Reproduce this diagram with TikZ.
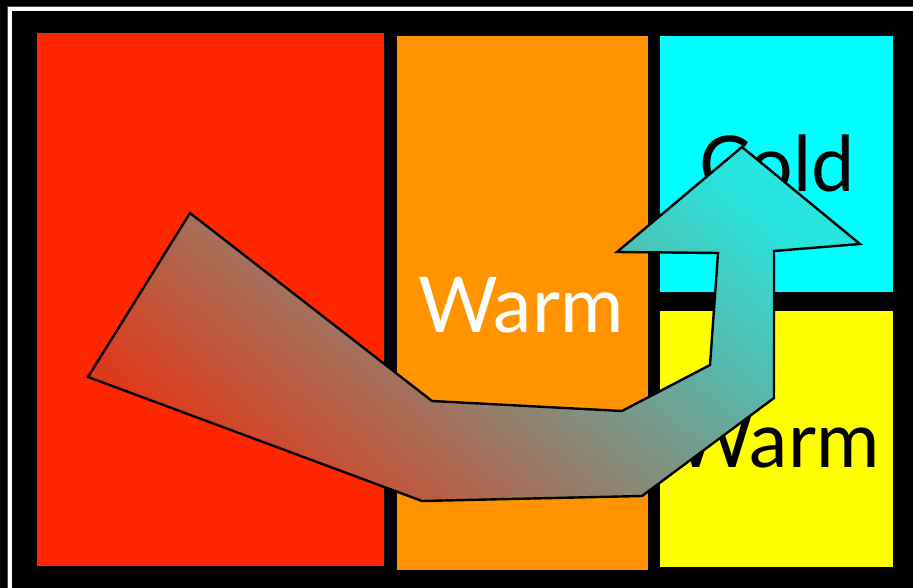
\documentclass[tikz,border=0pt]{standalone}
\usepackage{fontspec}
\setmainfont{Lato}
\definecolor{pred}{RGB}{255,38,0}
\definecolor{porange}{RGB}{255,147,0}
\definecolor{pcyan}{RGB}{0,255,255}
\definecolor{pyellow}{RGB}{255,255,0}
\definecolor{arrowred}{RGB}{222,58,28}
\definecolor{arrowcyan}{RGB}{40,228,222}

\begin{document}
\begin{tikzpicture}[x=1pt,y=-1pt,
  zone/.style={fill=#1,draw=none},
  label/.style={anchor=base,font=\fontsize{77}{77}\selectfont},
  flow/.style={draw=black,line width=2.4pt,line join=miter,
    bottom color=arrowred,top color=arrowcyan,shading angle=-40}]
\useasboundingbox (0,0) rectangle (913,588);
\clip (0,0) rectangle (913,588);
\fill[black] (0,0) rectangle (913,588);
%frame
\draw[gray!60!black,line width=1pt] (7.3,6.3) rectangle (1000,700);
\draw[white,line width=4pt] (10,9) rectangle (1000,700);
%zones
\fill[zone=pred] (37,33) rectangle (384,566);
\fill[zone=porange] (397,36) rectangle (648,570);
\fill[zone=pcyan] (660,36) rectangle (893,292);
\fill[zone=pyellow] (660,311) rectangle (893,567);
\node[label,text=white] (warmmid) at (521,332) {Warm};
\node[label,text=black] (cold) at (777,192) {Cold};
\node[label,text=black] (warmlow) at (777,467) {Warm};
%arrow
\shadedraw[flow]
(190,213)--(432,401)--(622,411)--(710,365)--(718,253)
--(617,252)--(742,147)--(860,244)--(774,251)--(774,398)
--(642,496)--(422,501)--(88,377)--cycle;
\end{tikzpicture}
\end{document}
